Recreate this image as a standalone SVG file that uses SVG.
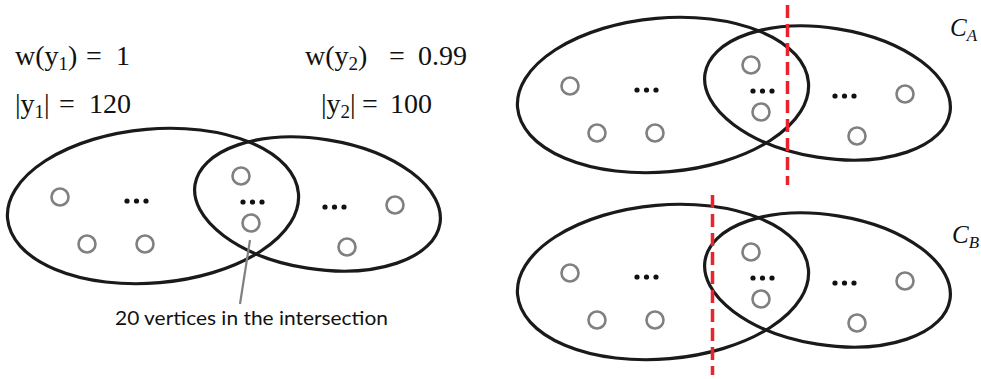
<svg xmlns="http://www.w3.org/2000/svg" width="981" height="379" viewBox="0 0 981 379">
  <style>
    .edge { fill: none; stroke: #1a1a1a; stroke-width: 3.2; }
    .vtx { fill: none; stroke: #808080; stroke-width: 2.6; }
    .dot { fill: #111; }
    .math { font-family: "Liberation Serif", "DejaVu Serif", serif; font-size: 28px; fill: #111; }
    .sub { font-size: 19px; }
    .lbl { font-family: Lato, "Liberation Sans", Arial, sans-serif; font-size: 20px; fill: #111; }
    .cut { fill: none; stroke: #e8232b; stroke-width: 3.5; stroke-dasharray: 13 6; }
    .lead { fill: none; stroke: #808080; stroke-width: 2.2; }
    .ital { font-family: "Liberation Serif", "DejaVu Serif", serif; font-style: italic; font-size: 25px; fill: #111; }
  </style>

  <!-- Left panel labels -->
  <g id="label-w1">
    <text class="math" y="65"><tspan x="15">w(y</tspan><tspan class="sub" dy="5">1</tspan><tspan dy="-5">)</tspan><tspan x="86">=</tspan><tspan x="116">1</tspan></text>
  </g>
  <g id="label-n1">
    <text class="math" y="113"><tspan x="15">|y</tspan><tspan class="sub" dy="5">1</tspan><tspan dy="-5">|</tspan><tspan x="59">=</tspan><tspan x="89">120</tspan></text>
  </g>
  <g id="label-w2">
    <text class="math" y="65"><tspan x="305">w(y</tspan><tspan class="sub" dy="5">2</tspan><tspan dy="-5">)</tspan><tspan x="389">=</tspan><tspan x="418">0.99</tspan></text>
  </g>
  <g id="label-n2">
    <text class="math" y="113"><tspan x="321">|y</tspan><tspan class="sub" dy="5">2</tspan><tspan dy="-5">|</tspan><tspan x="362">=</tspan><tspan x="390">100</tspan></text>
  </g>

  <!-- Left panel -->
  <g id="panel-left">
    <g id="L-y1"><ellipse class="edge" cx="153" cy="206" rx="146" ry="77" transform="rotate(-5 153 206)"/></g>
    <g id="L-y2"><ellipse class="edge" cx="317.5" cy="204" rx="124" ry="65" transform="rotate(9 317.5 204)"/></g>
    <g id="L-v1"><circle class="vtx" cx="60" cy="197" r="8.5"/></g>
    <g id="L-v2"><circle class="vtx" cx="87" cy="244" r="8.5"/></g>
    <g id="L-v3"><circle class="vtx" cx="145" cy="244" r="8.5"/></g>
    <g id="L-v4"><circle class="vtx" cx="241" cy="176" r="8.5"/></g>
    <g id="L-v5"><circle class="vtx" cx="251" cy="223" r="8.5"/></g>
    <g id="L-v6"><circle class="vtx" cx="395" cy="205" r="8.5"/></g>
    <g id="L-v7"><circle class="vtx" cx="347" cy="247" r="8.5"/></g>
    <g id="L-dots1"><circle class="dot" cx="127" cy="201" r="2.6"/><circle class="dot" cx="136.5" cy="201" r="2.6"/><circle class="dot" cx="146" cy="201" r="2.6"/></g>
    <g id="L-dots2"><circle class="dot" cx="243" cy="202" r="2.6"/><circle class="dot" cx="252.5" cy="202" r="2.6"/><circle class="dot" cx="262" cy="202" r="2.6"/></g>
    <g id="L-dots3"><circle class="dot" cx="325" cy="207" r="2.6"/><circle class="dot" cx="334.5" cy="207" r="2.6"/><circle class="dot" cx="344" cy="207" r="2.6"/></g>
  </g>

  <g id="connectors">
    <line class="lead" x1="250" y1="240" x2="240" y2="304"/>
  </g>

  <g id="label-intersection">
    <text class="lbl" x="115" y="325" textLength="273" lengthAdjust="spacingAndGlyphs">20 vertices in the intersection</text>
  </g>

  <!-- Top right panel -->
  <g id="panel-A" transform="translate(510,-111)">
    <g id="A-y1"><ellipse class="edge" cx="153" cy="206" rx="146" ry="77" transform="rotate(-5 153 206)"/></g>
    <g id="A-y2"><ellipse class="edge" cx="317.5" cy="204" rx="124" ry="65" transform="rotate(9 317.5 204)"/></g>
    <g id="A-v1"><circle class="vtx" cx="60" cy="197" r="8.5"/></g>
    <g id="A-v2"><circle class="vtx" cx="87" cy="244" r="8.5"/></g>
    <g id="A-v3"><circle class="vtx" cx="145" cy="244" r="8.5"/></g>
    <g id="A-v4"><circle class="vtx" cx="241" cy="176" r="8.5"/></g>
    <g id="A-v5"><circle class="vtx" cx="251" cy="223" r="8.5"/></g>
    <g id="A-v6"><circle class="vtx" cx="395" cy="205" r="8.5"/></g>
    <g id="A-v7"><circle class="vtx" cx="347" cy="247" r="8.5"/></g>
    <g id="A-dots1"><circle class="dot" cx="127" cy="201" r="2.6"/><circle class="dot" cx="136.5" cy="201" r="2.6"/><circle class="dot" cx="146" cy="201" r="2.6"/></g>
    <g id="A-dots2"><circle class="dot" cx="243" cy="202" r="2.6"/><circle class="dot" cx="252.5" cy="202" r="2.6"/><circle class="dot" cx="262" cy="202" r="2.6"/></g>
    <g id="A-dots3"><circle class="dot" cx="325" cy="207" r="2.6"/><circle class="dot" cx="334.5" cy="207" r="2.6"/><circle class="dot" cx="344" cy="207" r="2.6"/></g>
  </g>
  <g id="cut-A"><line class="cut" x1="787.5" y1="5" x2="787.5" y2="185"/></g>
  <g id="label-CA">
    <text class="ital" x="950" y="36">C<tspan font-size="17" dy="5">A</tspan></text>
  </g>

  <!-- Bottom right panel -->
  <g id="panel-B" transform="translate(510,76)">
    <g id="B-y1"><ellipse class="edge" cx="153" cy="206" rx="146" ry="77" transform="rotate(-5 153 206)"/></g>
    <g id="B-y2"><ellipse class="edge" cx="317.5" cy="204" rx="124" ry="65" transform="rotate(9 317.5 204)"/></g>
    <g id="B-v1"><circle class="vtx" cx="60" cy="197" r="8.5"/></g>
    <g id="B-v2"><circle class="vtx" cx="87" cy="244" r="8.5"/></g>
    <g id="B-v3"><circle class="vtx" cx="145" cy="244" r="8.5"/></g>
    <g id="B-v4"><circle class="vtx" cx="241" cy="176" r="8.5"/></g>
    <g id="B-v5"><circle class="vtx" cx="251" cy="223" r="8.5"/></g>
    <g id="B-v6"><circle class="vtx" cx="395" cy="205" r="8.5"/></g>
    <g id="B-v7"><circle class="vtx" cx="347" cy="247" r="8.5"/></g>
    <g id="B-dots1"><circle class="dot" cx="127" cy="201" r="2.6"/><circle class="dot" cx="136.5" cy="201" r="2.6"/><circle class="dot" cx="146" cy="201" r="2.6"/></g>
    <g id="B-dots2"><circle class="dot" cx="243" cy="202" r="2.6"/><circle class="dot" cx="252.5" cy="202" r="2.6"/><circle class="dot" cx="262" cy="202" r="2.6"/></g>
    <g id="B-dots3"><circle class="dot" cx="325" cy="207" r="2.6"/><circle class="dot" cx="334.5" cy="207" r="2.6"/><circle class="dot" cx="344" cy="207" r="2.6"/></g>
  </g>
  <g id="cut-B"><line class="cut" x1="712.5" y1="195" x2="712.5" y2="375"/></g>
  <g id="label-CB">
    <text class="ital" x="952" y="243">C<tspan font-size="17" dy="5">B</tspan></text>
  </g>
</svg>
